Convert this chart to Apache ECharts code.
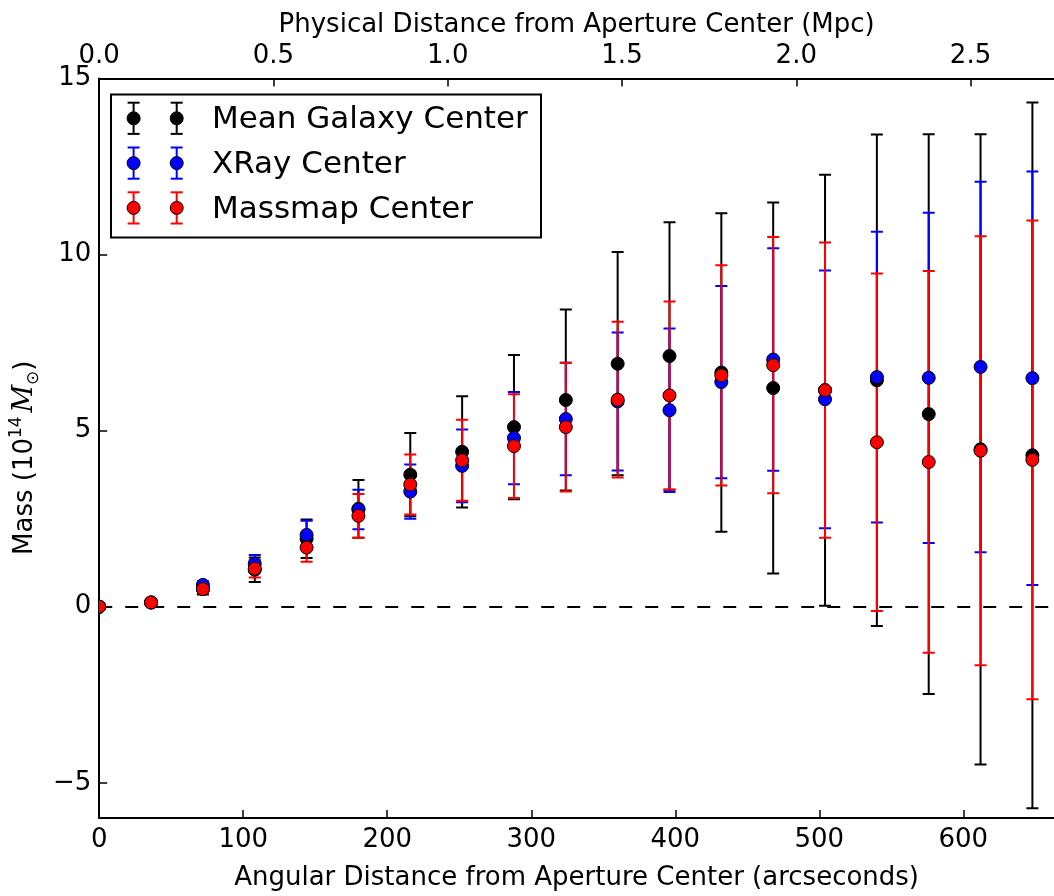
<!DOCTYPE html>
<html>
<head>
<meta charset="utf-8">
<script src="https://cdn.jsdelivr.net/npm/echarts@6/dist/echarts.min.js"></script>
<style>
html,body{margin:0;padding:0;background:#fff;}
#chart{width:1054px;height:896px;}
</style>
</head>
<body>
<div id="chart"></div>
<script>
// ---- data ----
const xArcsec = [0, 36, 72, 108, 144, 180, 216, 252, 288, 324, 360, 396, 432, 468, 504, 540, 576, 612, 648];
const seriesNames = ['Mean Galaxy Center', 'XRay Center', 'Massmap Center'];
const galaxyMass = [0, 0.12, 0.50, 1.05, 1.93, 2.78, 3.75, 4.40, 5.10, 5.87, 6.90, 7.12, 6.65, 6.21, 6.15, 6.43, 5.47, 4.47, 4.30];
const galaxyErr  = [0, 0.05, 0.15, 0.35, 0.55, 0.82, 1.18, 1.58, 2.05, 2.57, 3.17, 3.80, 4.52, 5.27, 6.12, 6.98, 7.95, 8.95, 10.02];
const xrayMass   = [0, 0.12, 0.62, 1.22, 2.04, 2.76, 3.27, 4.00, 4.79, 5.33, 5.83, 5.58, 6.38, 7.02, 5.89, 6.52, 6.50, 6.81, 6.49];
const xrayErr    = [0, 0.03, 0.10, 0.25, 0.40, 0.56, 0.77, 1.03, 1.31, 1.60, 1.96, 2.32, 2.73, 3.16, 3.66, 4.13, 4.69, 5.26, 5.87];
const massmapMass= [0, 0.12, 0.50, 1.08, 1.68, 2.58, 3.47, 4.16, 4.56, 5.10, 5.88, 6.00, 6.57, 6.86, 6.15, 4.67, 4.11, 4.43, 4.17];
const massmapErr = [0, 0.03, 0.10, 0.25, 0.40, 0.62, 0.85, 1.15, 1.47, 1.83, 2.21, 2.67, 3.13, 3.64, 4.19, 4.79, 5.42, 6.09, 6.80];
const xTickValues   = [0, 100, 200, 300, 400, 500, 600];
const mpcTickValues = [0, 0.5, 1.0, 1.5, 2.0, 2.5];
const yTickValues   = [-5, 0, 5, 10, 15];
const xMaxArcsec = 663;
const mpcPerArcsec = 0.004132;
const yMin = -6, yMax = 15;

// ---- styling ----
const FONT = 'DejaVu Sans';
const FS = 26;
const colors = ['#000000', '#0000ff', '#ff0000'];
const CAP = 6;
const R = 6.5;

function barRenderer(color) {
  return function (params, api) {
    const x = api.value(0), y = api.value(1), e = api.value(2);
    if (!(e > 0)) return { type: 'group', children: [] };
    const t = api.coord([x, y + e]);
    const b = api.coord([x, y - e]);
    const cx = t[0];
    const st = { stroke: color, lineWidth: 2 };
    return {
      type: 'group',
      children: [
        { type: 'line', shape: { x1: cx, y1: t[1], x2: cx, y2: b[1] }, style: st },
        { type: 'line', shape: { x1: cx - CAP, y1: t[1], x2: cx + CAP, y2: t[1] }, style: st },
        { type: 'line', shape: { x1: cx - CAP, y1: b[1], x2: cx + CAP, y2: b[1] }, style: st }
      ]
    };
  };
}
function markerRenderer(color) {
  return function (params, api) {
    const p = api.coord([api.value(0), api.value(1)]);
    return {
      type: 'circle',
      shape: { cx: p[0], cy: p[1], r: R },
      style: { fill: color, stroke: '#000', lineWidth: 1 }
    };
  };
}

const masses = [galaxyMass, xrayMass, massmapMass];
const errs = [galaxyErr, xrayErr, massmapErr];
const seriesData = masses.map((m, s) => xArcsec.map((x, i) => [x, m[i], errs[s][i]]));

const series = [];
seriesData.forEach((d, s) => {
  const ser = {
    name: seriesNames[s],
    type: 'custom',
    xAxisIndex: 0, yAxisIndex: 0,
    renderItem: barRenderer(colors[s]),
    data: d,
    encode: { x: 0, y: 1 },
    clip: true,
    z: 2,
    silent: true
  };
  if (s === 0) {
    ser.markLine = {
      silent: true,
      z: 1,
      symbol: ['none', 'none'],
      label: { show: false },
      lineStyle: { color: '#000', type: [13, 13], width: 2 },
      data: [{ yAxis: 0 }]
    };
  }
  series.push(ser);
});
seriesData.forEach((d, s) => {
  series.push({
    name: seriesNames[s],
    type: 'custom',
    xAxisIndex: 0, yAxisIndex: 0,
    renderItem: markerRenderer(colors[s]),
    data: d,
    encode: { x: 0, y: 1 },
    clip: true,
    z: 3,
    silent: true
  });
});

// ---- legend (drawn as graphic) ----
const legendGraphic = [{
  type: 'rect', z: 100,
  shape: { x: 111, y: 94.5, width: 430, height: 143 },
  style: { fill: '#fff', stroke: '#000', lineWidth: 2 }
}];
seriesNames.forEach((name, i) => {
  const cy = 118.3 + 44.8 * i;
  [133.6, 176.7].forEach(cx => {
    const st = { stroke: colors[i], lineWidth: 2 };
    legendGraphic.push({ type: 'line', z: 101, shape: { x1: cx, y1: cy - 15.6, x2: cx, y2: cy + 15.6 }, style: st });
    legendGraphic.push({ type: 'line', z: 101, shape: { x1: cx - CAP, y1: cy - 15.6, x2: cx + CAP, y2: cy - 15.6 }, style: st });
    legendGraphic.push({ type: 'line', z: 101, shape: { x1: cx - CAP, y1: cy + 15.6, x2: cx + CAP, y2: cy + 15.6 }, style: st });
    legendGraphic.push({ type: 'circle', z: 102, shape: { cx: cx, cy: cy, r: R }, style: { fill: colors[i], stroke: '#000', lineWidth: 1 } });
  });
  legendGraphic.push({
    type: 'text', z: 102, x: 212, y: cy + 2,
    style: { text: name, fontSize: 31, fontFamily: FONT, fill: '#000', verticalAlign: 'middle', align: 'left' }
  });
});

const axisLineStyle = { color: '#000', width: 2 };
const tickStyle = { color: '#000', width: 1.5 };

const option = {
  animation: false,
  backgroundColor: '#fff',
  grid: { left: 96.4, top: 78.5, width: 969, height: 748.2, containLabel: false },
  xAxis: [{
    type: 'value', position: 'bottom',
    min: 0, max: xMaxArcsec,
    name: 'Angular Distance from Aperture Center (arcseconds)',
    nameLocation: 'middle', nameGap: 47,
    nameTextStyle: { fontSize: FS, fontFamily: FONT, color: '#000' },
    axisLine: { show: true, onZero: false, lineStyle: axisLineStyle },
    axisTick: { show: true, inside: true, length: 8, lineStyle: tickStyle, customValues: xTickValues },
    axisLabel: { fontSize: FS, fontFamily: FONT, color: '#000', margin: 9, customValues: xTickValues },
    splitLine: { show: false }
  }, {
    type: 'value', position: 'top',
    min: 0, max: xMaxArcsec * mpcPerArcsec,
    name: 'Physical Distance from Aperture Center (Mpc)',
    nameLocation: 'middle', nameGap: 40,
    nameTextStyle: { fontSize: FS, fontFamily: FONT, color: '#000' },
    axisLine: { show: true, onZero: false, lineStyle: axisLineStyle },
    axisTick: { show: true, inside: true, length: 8, lineStyle: tickStyle, customValues: mpcTickValues },
    axisLabel: { fontSize: FS, fontFamily: FONT, color: '#000', margin: 9, customValues: mpcTickValues,
                 formatter: v => v.toFixed(1) },
    splitLine: { show: false }
  }],
  yAxis: [{
    type: 'value', position: 'left',
    min: yMin, max: yMax,
    name: 'Mass (10{sup|14}{sp| }{it|M}{sub|⊙})',
    nameLocation: 'middle', nameGap: 56, nameRotate: 90,
    nameTextStyle: {
      fontSize: FS, fontFamily: FONT, color: '#000', lineHeight: 34, padding: [0, 19, 0, 0],
      rich: {
        sup: { fontSize: 17, fontFamily: FONT, color: '#000', verticalAlign: 'top', lineHeight: 34 },
        sp: { fontSize: 12, fontFamily: FONT, color: '#000', lineHeight: 34 },
        it: { fontSize: 27, fontFamily: 'DejaVu Serif', fontStyle: 'italic', color: '#000', lineHeight: 34 },
        sub: { fontSize: 17, fontFamily: FONT, color: '#000', verticalAlign: 'bottom', lineHeight: 34 }
      }
    },
    axisLine: { show: true, onZero: false, lineStyle: axisLineStyle },
    axisTick: { show: true, inside: true, length: 8, lineStyle: tickStyle, customValues: yTickValues },
    axisLabel: { fontSize: FS, fontFamily: FONT, color: '#000', margin: 8, customValues: yTickValues,
                 formatter: v => (v < 0 ? '\u2212' + Math.abs(v) : String(v)) },
    splitLine: { show: false }
  }],
  series: series,
  graphic: legendGraphic
};

const chart = echarts.init(document.getElementById('chart'), null, { renderer: 'canvas' });
chart.setOption(option);
</script>
</body>
</html>
